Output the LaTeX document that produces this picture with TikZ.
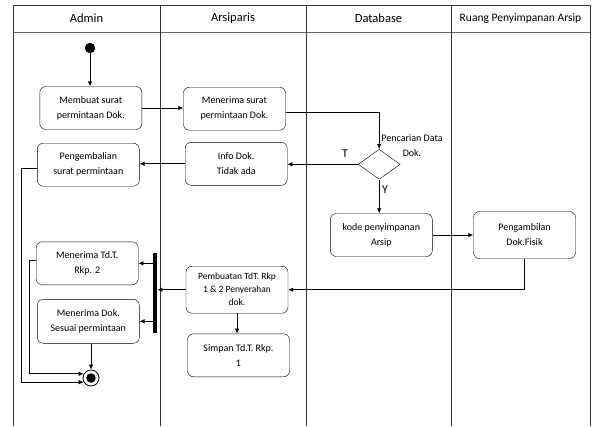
\documentclass[tikz,border=0pt]{standalone}
\usepackage{fontspec}
\setmainfont{Carlito}
\usepackage{tikz}
\usetikzlibrary{shapes.geometric,arrows.meta,positioning}

\begin{document}
\begin{tikzpicture}[x=1pt, y=-1pt,
    activity/.style={rectangle, draw, rounded corners=6pt, minimum width=102pt, minimum height=43pt, align=center, inner sep=1pt, font=\fontsize{10}{15}\selectfont},
    decision/.style={diamond, draw, minimum width=42pt, minimum height=30pt, inner sep=0pt},
    arrow/.style={->, >={Latex[length=5pt,width=4.5pt]}, line width=0.8pt},
    lane/.style={draw=black!80, line width=0.8pt},
    header/.style={font=\fontsize{12.5}{14}\selectfont}
]
    \useasboundingbox[fill=white] (0,0) rectangle (592,426);

    % Swimlanes
    \draw[lane] (13,426) -- (13,5) -- (590,5) -- (590,426);
    \draw[lane, draw=black!60] (13,32) -- (590,32);
    \foreach \x in {160,306,451}
        \draw[lane] (\x,5) -- (\x,426);
    \node[header] (hadmin) at (86.5,18.5) {Admin};
    \node[header] (harsip) at (233,18.5) {Arsiparis};
    \node[header] (hdb) at (378.5,18.5) {Database};
    \node[header, font=\fontsize{11.5}{14}\selectfont] (hruang) at (520.5,18.5) {Ruang Penyimpanan Arsip};

    % Activities
    \node[circle, fill, minimum size=10.5pt, inner sep=0pt] (start) at (90,48) {};
    \node[activity] (make) at (90.8,108) {Membuat surat\\permintaan Dok.};
    \node[activity] (recv) at (234.5,108.7) {Menerima surat\\permintaan Dok.};
    \node[decision] (dec) at (379.2,164.3) {};
    \node[align=center, font=\fontsize{10}{14.4}\selectfont] (decl) at (412,145.5) {Pencarian Data\\Dok.};
    \node[activity] (info) at (236.2,163.8) {Info Dok.\\Tidak ada};
    \node[activity] (back) at (88.3,164.7) {Pengembalian\\surat permintaan};
    \node[activity] (code) at (381.3,235) {kode penyimpanan\\Arsip};
    \node[activity, minimum height=47pt] (fetch) at (524.5,235) {Pengambilan\\Dok.Fisik};
    \node[activity, minimum height=47pt, font=\fontsize{9.5}{13}\selectfont] (hand) at (237,289.7) {Pembuatan TdT. Rkp\\1 \& 2 Penyerahan\\dok.};
    \node[activity] (keep) at (238.5,355.3) {Simpan Td.T. Rkp.\\1};
    \node[rectangle, fill, minimum width=4.5pt, minimum height=80pt, inner sep=0pt] (fork) at (155,292.7) {};
    \node[activity] (tdt) at (87.2,263.3) {Menerima Td.T.\\Rkp. 2};
    \node[activity, minimum height=44pt] (dok) at (88.3,321.3) {Menerima Dok.\\Sesuai permintaan};
    \node[circle, draw, line width=0.8pt, minimum size=16pt, inner sep=0pt] (end) at (91,378) {};
    \node[circle, fill, minimum size=9.5pt, inner sep=0pt] (endin) at (end) {};

    % Guards
    \node[font=\fontsize{12}{14}\selectfont] (tno) at (345,153.3) {T};
    \node[font=\fontsize{12}{14}\selectfont] (yes) at (385,190) {Y};

    % Connections
    \draw[arrow] (start) -- (start |- make.north);
    \draw[arrow] (make.east) -- (make.east -| recv.west);
    \draw[arrow] ([yshift=-4pt]recv.east) -| (dec.north);
    \draw[arrow] (dec.west) -- (dec.west -| info.east);
    \draw[arrow] (info.west) -- (info.west -| back.east);
    \draw[arrow] (dec.south) -- (dec.south |- code.north);
    \draw[arrow] (code.east) -- (code.east -| fetch.west);
    \draw[arrow] (fetch.south) |- (hand.east);
    \draw[arrow] (hand.west) -- (hand.west -| fork.east);
    \draw[arrow] (hand.south) -- (hand.south |- keep.north);
    \draw[arrow] (fork.west |- tdt.east) -- (tdt.east);
    \draw[arrow] (fork.west |- dok.east) -- (dok.east);
    \draw[arrow] (end |- dok.south) -- (end.north);
    \draw[arrow] ([yshift=3pt]tdt.west) -- ++(-7,0) |- (end.150);
    \draw[arrow] ([yshift=-3.5pt]back.west) -- ++(-15.5,0) |- (end.210);

\end{tikzpicture}
\end{document}
